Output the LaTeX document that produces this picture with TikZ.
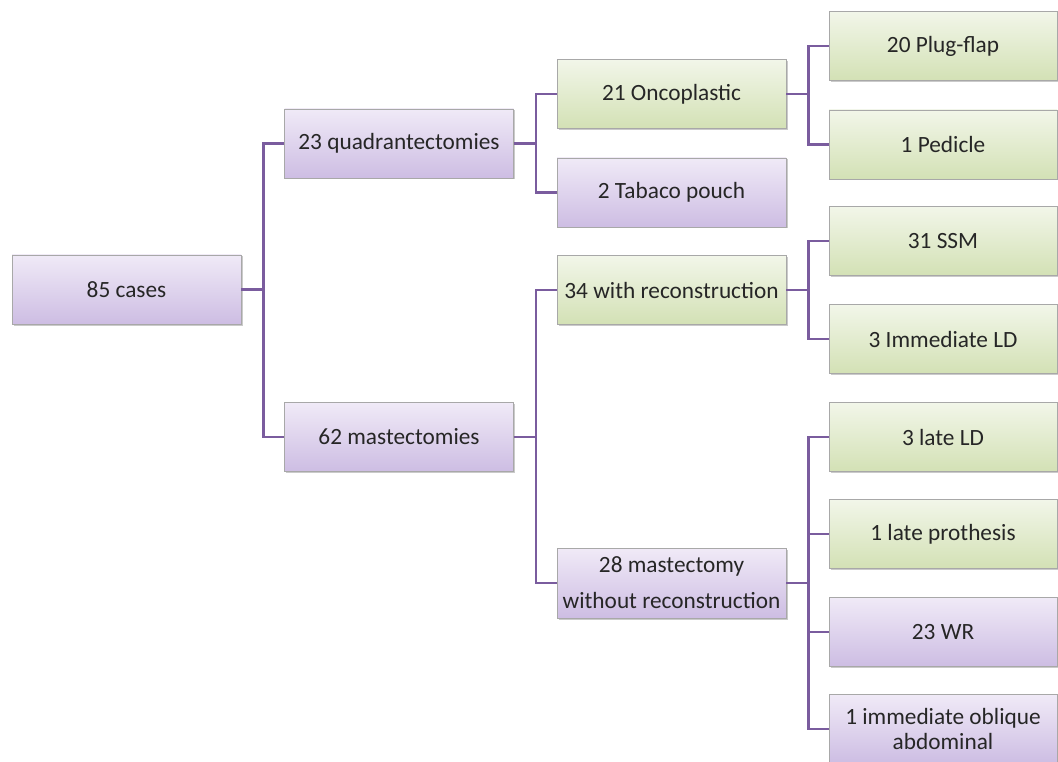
\documentclass[tikz,border=0pt]{standalone}
\usepackage{fontspec}
\setmainfont{Carlito}
\usetikzlibrary{shadows}
\definecolor{pA}{HTML}{F0EAF7}
\definecolor{pB}{HTML}{CDBDE3}
\definecolor{gA}{HTML}{F2F6E9}
\definecolor{gB}{HTML}{D3E1B5}
\definecolor{lineP}{HTML}{7A5C9E}
\definecolor{bord}{HTML}{A8A8A8}
\tikzset{
  box/.style={draw=bord, line width=0.8pt, inner sep=2pt, align=center,
    text=black!85, font=\fontsize{23.3}{25}\selectfont,
    minimum width=229pt, minimum height=69pt,
    drop shadow={shadow xshift=1.5pt, shadow yshift=-1.5pt, opacity=0.35, fill=black!60}},
  pbox/.style={box, top color=pA, bottom color=pB},
  gbox/.style={box, top color=gA, bottom color=gB},
  conn/.style={draw=lineP, line width=2.8pt},
}
\begin{document}
\begin{tikzpicture}[x=1pt,y=-1pt]
\useasboundingbox (0,0) rectangle (1058,762);
\node[pbox] (cases) at (126.5,289.5) {85 cases};
\node[pbox] (quad) at (399,143.5) {23 quadrantectomies};
\node[pbox] (mast) at (399,437) {62 mastectomies};
\node[gbox] (onco) at (671.5,94) {21 Oncoplastic};
\node[pbox] (tab) at (671.5,192.5) {2 Tabaco pouch};
\node[gbox] (withr) at (671.5,290) {34 with reconstruction};
\node[pbox, minimum height=70pt, inner sep=0pt, font=\fontsize{23.3}{36}\selectfont] (without) at (671.5,583) {28 mastectomy\\without reconstruction};
\node[gbox, minimum width=228pt] (plug) at (943,46) {20 Plug-flap};
\node[gbox, minimum width=228pt] (ped) at (943,144.5) {1 Pedicle};
\node[gbox, minimum width=228pt] (ssm) at (943,241) {31 SSM};
\node[gbox, minimum width=228pt] (imld) at (943,339) {3 Immediate LD};
\node[gbox, minimum width=228pt] (lateld) at (943,437) {3 late LD};
\node[gbox, minimum width=228pt] (latep) at (943,534) {1 late prothesis};
\node[pbox, minimum width=228pt] (wr) at (943,632) {23 WR};
\node[pbox, minimum width=228pt] (obl) at (943,729) {1 immediate oblique\\abdominal};
\draw[conn] (cases.east) -- ++(22,0) |- (quad.west);
\draw[conn] (cases.east) -- ++(22,0) |- (mast.west);
\draw[conn] (quad.east) -- ++(22,0) |- (onco.west);
\draw[conn] (quad.east) -- ++(22,0) |- (tab.west);
\draw[conn] (mast.east) -- ++(22,0) |- (withr.west);
\draw[conn] (mast.east) -- ++(22,0) |- (without.west);
\draw[conn] (onco.east) -- ++(22,0) |- (plug.west);
\draw[conn] (onco.east) -- ++(22,0) |- (ped.west);
\draw[conn] (withr.east) -- ++(22,0) |- (ssm.west);
\draw[conn] (withr.east) -- ++(22,0) |- (imld.west);
\draw[conn] (without.east) -- ++(22,0) |- (lateld.west);
\draw[conn] (without.east) -- ++(22,0) |- (latep.west);
\draw[conn] (without.east) -- ++(22,0) |- (wr.west);
\draw[conn] (without.east) -- ++(22,0) |- (obl.west);
\end{tikzpicture}
\end{document}
